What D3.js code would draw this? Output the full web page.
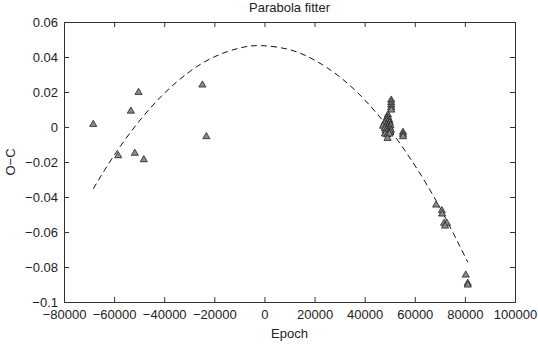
<!DOCTYPE html>
<html>
<head>
<meta charset="utf-8">
<script src="https://cdn.jsdelivr.net/npm/d3@7"></script>
<style>
  html, body { margin: 0; padding: 0; background: #fff; }
  svg { display: block; }
  text { font-family: "Liberation Sans", Arial, Helvetica, sans-serif; fill: #222; }
</style>
</head>
<body>
<svg id="chart" width="538" height="345"></svg>
<script>
// ---- data ----
const title = "Parabola fitter";
const xLabel = "Epoch";
const yLabel = "O\u2212C";

const xTicks = [-80000, -60000, -40000, -20000, 0, 20000, 40000, 60000, 80000, 100000];
const yTicks = [0.06, 0.04, 0.02, 0, -0.02, -0.04, -0.06, -0.08, -0.1];

// observed minima: epoch and O-C
const obsEpoch = [
  -68330, -58380, -53320, -51730, -50250, -48140, -24770, -23180,
  49300, 49000, 49500, 48700, 49800, 48200, 49200, 50000, 47800, 48800,
  49600, 50300, 47300, 48400, 49100, 50000, 48000, 48900, 49700, 50500,
  48300, 49300, 50200, 48700, 49600, 48100, 49000, 49900, 49140,
  50600, 50600, 50600, 50600, 50600,
  55300, 55300, 55300,
  68530, 70800, 70900, 71700, 72800, 72100,
  80350, 81150, 81150
];
const obsOC = [
  0.0015, -0.0164, 0.0091, -0.0150, 0.0198, -0.0187, 0.0240, -0.0055,
  0.0069, 0.0055, 0.0050, 0.0040, 0.0038, 0.0030, 0.0028, 0.0025, 0.0020, 0.0015,
  0.0012, 0.0010, 0.0005, 0.0003, 0.0000, -0.0002, -0.0008, -0.0012, -0.0015, -0.0018,
  -0.0022, -0.0025, -0.0028, -0.0032, -0.0036, -0.0040, -0.0045, -0.0040, -0.0065,
  0.0154, 0.0140, 0.0125, 0.0110, 0.0097,
  -0.0030, -0.0042, -0.0055,
  -0.0446, -0.0478, -0.0497, -0.0550, -0.0550, -0.0566,
  -0.0846, -0.0893, -0.0903
];

// dashed fitted parabola
const fitEpoch = [-68330, -60000, -50000, -40000, -30000, -20000, -10000, -1300,
                  10000, 20000, 30000, 40000, 50000, 60000, 70000, 81150];
const fitOC = [-0.0353, -0.0162, 0.0033, 0.0192, 0.0315, 0.0401, 0.0451, 0.0465,
               0.0442, 0.0382, 0.0287, 0.0155, -0.0014, -0.0219, -0.0460, -0.0772];

// ---- layout ----
const W = 538, H = 345;
const plot = { left: 64, right: 515, top: 22, bottom: 302 };
const svg = d3.select("#chart");

const x = d3.scaleLinear().domain([-80000, 100000]).range([plot.left, plot.right]);
const y = d3.scaleLinear().domain([-0.1, 0.06]).range([plot.bottom, plot.top]);

const fmtMinus = s => s.replace("-", "\u2212");
const xFmt = d => fmtMinus(String(d));
const yFmt = d => fmtMinus(d3.format("~g")(d));

const tickLen = 5;
const axisColor = "#333";

// bottom axis (ticks inward)
const gx = svg.append("g").attr("transform", `translate(0,${plot.bottom})`)
  .call(d3.axisBottom(x).tickValues(xTicks).tickFormat(xFmt).tickSize(-tickLen).tickPadding(8));
// top axis (ticks only)
const gxt = svg.append("g").attr("transform", `translate(0,${plot.top})`)
  .call(d3.axisTop(x).tickValues(xTicks).tickFormat("").tickSize(-tickLen));
// left axis
const gy = svg.append("g").attr("transform", `translate(${plot.left},0)`)
  .call(d3.axisLeft(y).tickValues(yTicks).tickFormat(yFmt).tickSize(-tickLen).tickPadding(6));
// right axis
const gyr = svg.append("g").attr("transform", `translate(${plot.right},0)`)
  .call(d3.axisRight(y).tickValues(yTicks).tickFormat("").tickSize(-tickLen));

[gx, gxt, gy, gyr].forEach(g => {
  g.select(".domain").attr("stroke", axisColor).attr("stroke-width", 1);
  g.selectAll(".tick line").attr("stroke", axisColor).attr("stroke-width", 1);
  g.selectAll(".tick text").attr("fill", "#222").style("font-size", "13px")
    .style("font-family", "'Liberation Sans', Arial, sans-serif");
});
gx.selectAll(".tick text").attr("dy", "0.71em");

// fitted curve (dashed)
const line = d3.line()
  .x((d, i) => x(fitEpoch[i]))
  .y((d, i) => y(fitOC[i]))
  .curve(d3.curveNatural);
svg.append("path")
  .datum(fitEpoch)
  .attr("d", line)
  .attr("fill", "none")
  .attr("stroke", "#111")
  .attr("stroke-width", 1)
  .attr("stroke-dasharray", "6,4");

// triangle markers
const tri = d3.symbol().type(d3.symbolTriangle).size(22);
svg.append("g").selectAll("path")
  .data(obsEpoch)
  .join("path")
  .attr("d", tri)
  .attr("transform", (d, i) => `translate(${x(d)},${y(obsOC[i])})`)
  .attr("fill", "#8a8a8a")
  .attr("stroke", "#222")
  .attr("stroke-width", 0.8);

// title and axis labels
const cx = (plot.left + plot.right) / 2;
svg.append("text").attr("x", cx).attr("y", 12).attr("text-anchor", "middle")
  .style("font-size", "13px").text(title);
svg.append("text").attr("x", cx).attr("y", 338).attr("text-anchor", "middle")
  .style("font-size", "13px").text(xLabel);
svg.append("text")
  .attr("transform", `translate(15,${(plot.top + plot.bottom) / 2}) rotate(-90)`)
  .attr("text-anchor", "middle")
  .style("font-size", "13px").text(yLabel);
</script>
</body>
</html>
